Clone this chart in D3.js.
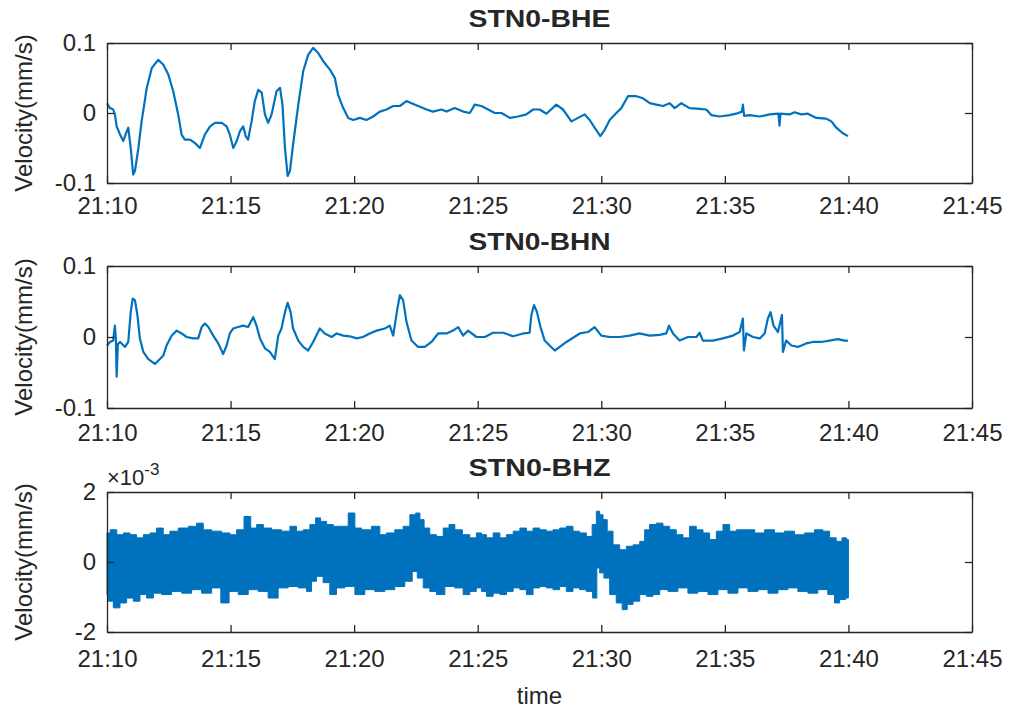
<!DOCTYPE html>
<html>
<head>
<meta charset="utf-8">
<script src="https://cdn.jsdelivr.net/npm/d3@7"></script>
<style>
  html, body { margin: 0; padding: 0; background: #ffffff; }
  svg { display: block; }
  text { font-family: "Liberation Sans", Arial, Helvetica, sans-serif; fill: #262626; }
</style>
</head>
<body>
<svg id="chart" width="1011" height="710"></svg>
<script>
// Record start (21:10) and time-axis ticks
const startHour = 21, startMinute = 10;
const xTickMinutes = [0, 5, 10, 15, 20, 25, 30, 35];
const xTickLabels = ["21:10", "21:15", "21:20", "21:25", "21:30", "21:35", "21:40", "21:45"];

// Channel titles
const channelTitles = ["STN0-BHE", "STN0-BHN", "STN0-BHZ"];

// STN0-BHE: minutes after 21:10, velocity (mm/s)
const bheMinutes = [0.00,0.12,0.25,0.32,0.39,0.53,0.66,0.80,0.86,0.96,1.06,1.13,1.27,1.40,1.61,1.81,2.07,2.28,2.48,2.68,2.88,3.02,3.15,3.36,3.56,3.76,3.96,4.17,4.37,4.64,4.84,4.97,5.11,5.25,5.38,5.51,5.61,5.71,5.85,5.98,6.12,6.26,6.39,6.52,6.66,6.86,7.00,7.10,7.20,7.31,7.40,7.53,7.74,7.94,8.14,8.34,8.54,8.75,9.02,9.22,9.35,9.56,9.76,9.96,10.23,10.50,10.77,11.04,11.31,11.58,11.85,12.12,12.32,12.59,12.93,13.19,13.53,13.74,14.07,14.41,14.68,14.88,15.15,15.42,15.69,15.96,16.30,16.63,16.97,17.24,17.51,17.78,18.18,18.45,18.79,19.06,19.33,19.53,19.73,19.96,20.14,20.34,20.61,20.81,21.08,21.42,21.69,21.96,22.23,22.50,22.77,22.97,23.24,23.57,23.98,24.25,24.45,24.79,25.19,25.46,25.69,25.73,25.78,26.00,26.41,26.81,27.17,27.21,27.25,27.62,27.82,28.09,28.36,28.70,29.10,29.31,29.51,29.78,29.98];
const bheValues = [0.014,0.007,0.005,-0.002,-0.019,-0.031,-0.040,-0.026,-0.021,-0.050,-0.088,-0.083,-0.050,-0.012,0.036,0.064,0.076,0.069,0.055,0.031,-0.002,-0.031,-0.038,-0.038,-0.043,-0.050,-0.031,-0.019,-0.014,-0.014,-0.019,-0.031,-0.050,-0.040,-0.026,-0.019,-0.033,-0.038,-0.012,0.017,0.033,0.029,-0.002,-0.014,-0.002,0.031,0.036,0.012,-0.050,-0.090,-0.083,-0.045,0.012,0.060,0.083,0.093,0.086,0.074,0.062,0.050,0.026,0.007,-0.007,-0.010,-0.007,-0.010,-0.005,0.002,0.005,0.010,0.010,0.017,0.014,0.010,0.005,0.002,0.005,0.002,0.007,0.002,0.000,0.012,0.010,0.005,0.000,0.000,-0.007,-0.005,-0.002,0.005,0.005,-0.001,0.012,0.005,-0.012,-0.007,-0.002,-0.010,-0.021,-0.033,-0.024,-0.010,0.000,0.007,0.024,0.024,0.021,0.014,0.012,0.010,0.014,0.007,0.014,0.007,0.006,0.005,-0.003,-0.005,-0.003,-0.001,0.002,0.012,-0.004,-0.003,-0.005,-0.002,-0.001,-0.018,-0.001,-0.002,0.001,-0.002,-0.001,-0.007,-0.008,-0.012,-0.021,-0.029,-0.033];

// STN0-BHN: minutes after 21:10, velocity (mm/s)
const bhnMinutes = [0.00,0.12,0.25,0.32,0.36,0.39,0.44,0.53,0.73,0.86,0.96,1.04,1.13,1.23,1.33,1.47,1.67,1.94,2.14,2.28,2.41,2.62,2.82,3.02,3.22,3.49,3.69,3.83,3.96,4.10,4.30,4.50,4.70,4.84,4.97,5.11,5.31,5.51,5.71,5.92,6.05,6.19,6.39,6.59,6.79,6.93,7.06,7.20,7.31,7.43,7.53,7.74,7.94,8.14,8.34,8.61,8.81,9.09,9.29,9.56,9.83,10.10,10.36,10.63,10.91,11.24,11.44,11.58,11.75,11.85,11.98,12.12,12.32,12.59,12.86,13.13,13.40,13.74,14.00,14.21,14.41,14.61,14.95,15.29,15.62,16.03,16.43,16.84,17.10,17.17,17.28,17.40,17.54,17.71,17.91,18.12,18.32,18.59,18.86,19.13,19.46,19.73,20.00,20.34,20.74,21.15,21.55,21.96,22.36,22.63,22.74,22.90,23.17,23.51,23.85,23.98,24.11,24.52,24.92,25.33,25.60,25.73,25.77,25.87,26.14,26.41,26.61,26.74,26.85,26.97,27.15,27.31,27.35,27.48,27.69,27.96,28.29,28.56,28.90,29.23,29.57,29.84,29.98];
const bhnValues = [-0.012,-0.007,-0.005,0.016,-0.004,-0.056,-0.010,-0.007,-0.014,-0.007,0.035,0.054,0.052,0.031,-0.002,-0.021,-0.031,-0.038,-0.031,-0.026,-0.012,0.002,0.009,0.005,0.000,-0.002,-0.002,0.014,0.019,0.014,0.002,-0.009,-0.024,-0.012,0.005,0.012,0.014,0.016,0.014,0.028,0.016,-0.002,-0.016,-0.021,-0.031,0.002,0.012,0.035,0.048,0.035,0.012,-0.005,-0.014,-0.019,-0.007,0.012,0.005,0.000,0.005,0.002,0.001,-0.002,0.000,0.005,0.009,0.012,0.016,0.002,0.040,0.059,0.052,0.021,-0.005,-0.014,-0.014,-0.007,0.005,0.005,0.009,0.014,0.002,0.009,0.000,0.000,0.006,0.006,0.001,0.005,0.006,0.031,0.045,0.035,0.014,-0.005,-0.012,-0.019,-0.014,-0.007,-0.001,0.005,0.007,0.014,0.002,0.000,0.000,0.002,0.005,0.002,0.003,0.005,0.016,0.005,-0.005,0.000,0.000,0.006,-0.005,-0.005,-0.002,0.002,0.007,0.026,-0.019,0.005,0.000,-0.002,0.005,0.026,0.035,0.016,0.007,0.031,-0.021,-0.005,-0.012,-0.014,-0.009,-0.007,-0.007,-0.005,-0.003,-0.005,-0.005];

// STN0-BHZ: envelope of the broadband trace (×10^-3 mm/s)
const bhzUpperMinutes = [0.00,0.26,0.53,0.80,1.06,1.33,1.61,1.87,2.14,2.41,2.68,3.09,3.49,3.76,4.03,4.44,4.84,5.11,5.38,5.71,5.92,6.19,6.46,6.86,7.27,7.53,7.80,8.08,8.34,8.54,8.75,9.02,9.29,9.56,9.96,10.10,10.50,10.91,11.17,11.44,11.85,12.12,12.39,12.59,12.73,12.93,13.19,13.47,13.74,13.94,14.21,14.55,14.81,15.08,15.22,15.49,15.76,16.03,16.30,16.57,16.84,17.10,17.38,17.64,17.91,18.18,18.45,18.72,18.99,19.26,19.53,19.73,19.87,20.00,20.14,20.34,20.61,20.88,21.15,21.42,21.69,21.82,22.09,22.36,22.63,22.90,23.17,23.44,23.71,23.98,24.25,24.52,24.79,25.06,25.33,25.60,26.00,26.41,26.81,27.21,27.62,28.02,28.43,28.83,29.10,29.37,29.64,29.84,30.00];
const bhzUpperValues = [0.83,0.92,0.78,0.83,0.78,0.69,0.78,0.83,0.97,0.78,0.88,0.97,1.02,1.11,0.92,0.88,0.83,0.78,0.92,1.30,0.97,1.07,0.97,0.92,0.88,1.02,0.88,0.92,1.07,1.26,1.16,1.07,1.02,1.02,1.40,0.97,0.92,1.02,0.78,0.83,0.92,1.02,1.35,1.40,1.21,0.97,0.78,0.73,0.97,1.07,0.92,0.78,0.69,0.83,0.78,0.69,0.83,0.69,0.78,0.88,0.97,0.88,0.97,0.92,0.88,0.92,0.97,1.02,0.88,0.83,0.73,1.07,1.45,1.35,1.21,0.88,0.49,0.35,0.45,0.49,0.59,0.92,1.07,1.11,1.02,0.92,0.78,0.69,1.02,0.92,0.83,0.64,0.88,1.07,0.88,0.92,0.92,0.83,0.92,0.83,0.88,0.78,0.83,0.92,0.88,0.69,0.59,0.69,0.64];
const bhzLowerMinutes = [0.00,0.12,0.39,0.66,0.93,1.20,1.47,1.74,2.01,2.41,2.82,3.22,3.63,4.03,4.44,4.77,5.11,5.51,5.92,6.32,6.72,7.13,7.53,7.94,8.21,8.34,8.61,8.88,9.15,9.42,9.83,10.23,10.63,11.04,11.44,11.85,12.25,12.45,12.66,12.93,13.19,13.47,13.87,14.27,14.55,14.81,15.08,15.22,15.49,15.76,16.03,16.30,16.57,16.84,17.10,17.38,17.64,17.91,18.18,18.45,18.72,18.99,19.26,19.53,19.77,19.87,20.00,20.21,20.47,20.74,20.95,21.15,21.42,21.69,21.96,22.23,22.50,22.90,23.30,23.71,24.11,24.52,24.92,25.33,25.73,26.14,26.54,26.95,27.35,27.75,28.16,28.56,28.96,29.37,29.51,29.78,30.00];
const bhzLowerValues = [-0.93,-1.12,-1.31,-1.17,-1.03,-1.12,-0.93,-1.03,-0.89,-0.93,-0.84,-0.89,-0.79,-0.89,-0.74,-1.17,-0.84,-0.93,-0.79,-0.84,-1.03,-0.74,-0.70,-0.74,-0.84,-0.55,-0.41,-0.59,-0.93,-0.74,-0.70,-0.93,-0.79,-0.84,-0.79,-0.70,-0.55,-0.27,-0.46,-0.74,-0.84,-0.93,-0.70,-0.74,-0.93,-0.84,-0.74,-0.84,-0.98,-0.89,-0.93,-0.84,-0.74,-0.79,-0.93,-0.74,-0.70,-0.74,-0.79,-0.70,-0.84,-0.74,-0.79,-0.84,-1.03,-0.17,-0.31,-0.46,-0.93,-1.17,-1.36,-1.21,-1.12,-0.93,-0.98,-0.93,-0.79,-0.84,-0.74,-0.89,-0.84,-0.93,-0.79,-0.89,-0.74,-0.84,-0.79,-0.89,-0.79,-0.74,-0.84,-0.89,-0.79,-0.93,-1.17,-1.07,-1.03];

// Y-axis ticks for each panel
const yTicksMain = [-0.1, 0, 0.1];
const yTickLabelsMain = ["-0.1", "0", "0.1"];
const yTicksZ = [-2, 0, 2];
const yTickLabelsZ = ["-2", "0", "2"];

const LINE_COLOR = "#0072BD";
const AXIS_COLOR = "#262626";

const svg = d3.select("#chart");
const t0 = new Date(2000, 0, 1, startHour, startMinute);
const toDate = m => new Date(t0.getTime() + m * 60000);

const left = 107, right = 972;
const x = d3.scaleTime().domain([toDate(0), toDate(35)]).range([left, right]);

const panels = [
  { top: 43, bottom: 183, domain: [-0.1, 0.1], ticks: yTicksMain, labels: yTickLabelsMain, xPad: 14 },
  { top: 266, bottom: 408, domain: [-0.1, 0.1], ticks: yTicksMain, labels: yTickLabelsMain, xPad: 16 },
  { top: 492, bottom: 632, domain: [-2, 2], ticks: yTicksZ, labels: yTickLabelsZ, xPad: 18 }
];

panels.forEach((p, i) => {
  p.y = d3.scaleLinear().domain(p.domain).range([p.bottom, p.top]);
  const g = svg.append("g");

  const line = d3.line()
    .x(d => x(toDate(d[0])))
    .y(d => p.y(d[1]));

  // data layer
  if (i === 0 || i === 1) {
    const mins = i === 0 ? bheMinutes : bhnMinutes;
    const vals = i === 0 ? bheValues : bhnValues;
    const pts = mins.map((m, k) => [m, vals[k]]);
    g.append("path")
      .attr("d", line(pts))
      .attr("fill", "none")
      .attr("stroke", LINE_COLOR)
      .attr("stroke-width", 2.2)
      .attr("stroke-linejoin", "round");
  } else {
    const upper = bhzUpperMinutes.map((m, k) => [m, bhzUpperValues[k]]);
    const lower = bhzLowerMinutes.map((m, k) => [m, bhzLowerValues[k]]).reverse();
    const stepLine = d3.line()
      .x(d => x(toDate(d[0])))
      .y(d => p.y(d[1]))
      .curve(d3.curveStep);
    const outline = stepLine(upper) + "L" + stepLine(lower).slice(1) + "Z";
    g.append("path")
      .attr("d", outline)
      .attr("fill", LINE_COLOR)
      .attr("stroke", LINE_COLOR)
      .attr("stroke-width", 1);
  }

  // axes box with inward ticks
  const tickLen = 7;
  const xAxisBottom = d3.axisBottom(x)
    .tickValues(xTickMinutes.map(toDate))
    .tickFormat((d, k) => xTickLabels[k])
    .tickSizeInner(-tickLen).tickSizeOuter(0).tickPadding(p.xPad);
  const xAxisTop = d3.axisTop(x)
    .tickValues(xTickMinutes.map(toDate))
    .tickFormat("")
    .tickSizeInner(-tickLen).tickSizeOuter(0);
  const yAxisLeft = d3.axisLeft(p.y)
    .tickValues(p.ticks)
    .tickFormat((d, k) => p.labels[k])
    .tickSizeInner(-tickLen).tickSizeOuter(0).tickPadding(11);
  const yAxisRight = d3.axisRight(p.y)
    .tickValues(p.ticks)
    .tickFormat("")
    .tickSizeInner(-tickLen).tickSizeOuter(0);

  const axes = [
    g.append("g").attr("transform", `translate(0,${p.bottom})`).call(xAxisBottom),
    g.append("g").attr("transform", `translate(0,${p.top})`).call(xAxisTop),
    g.append("g").attr("transform", `translate(${left},0)`).call(yAxisLeft),
    g.append("g").attr("transform", `translate(${right},0)`).call(yAxisRight)
  ];
  axes.forEach(a => {
    a.selectAll(".domain").attr("stroke", AXIS_COLOR).attr("stroke-width", 1.3);
    a.selectAll(".tick line").attr("stroke", AXIS_COLOR).attr("stroke-width", 1.3);
    a.selectAll("text").attr("font-size", 24).attr("fill", AXIS_COLOR)
      .style("font-family", "'Liberation Sans', Arial, sans-serif");
  });

  // title
  g.append("text")
    .attr("x", (left + right) / 2)
    .attr("y", p.top - 16)
    .attr("text-anchor", "middle")
    .attr("font-size", 23)
    .attr("font-weight", "bold")
    .attr("fill", "#000")
    .attr("textLength", 142)
    .attr("lengthAdjust", "spacingAndGlyphs")
    .text(channelTitles[i]);

  // y label
  g.append("text")
    .attr("transform", `translate(32,${(p.top + p.bottom) / 2}) rotate(-90)`)
    .attr("text-anchor", "middle")
    .attr("font-size", 24)
    .text("Velocity(mm/s)");

  if (i === 2) {
    const ex = g.append("text")
      .attr("x", left)
      .attr("y", p.top - 7)
      .attr("font-size", 22);
    ex.append("tspan").text("\u00d710");
    ex.append("tspan").attr("dy", -10).attr("font-size", 17).text("-3");
  }
});

// x label
svg.append("text")
  .attr("x", (left + right) / 2)
  .attr("y", 704)
  .attr("text-anchor", "middle")
  .attr("font-size", 24)
  .text("time");
</script>
</body>
</html>
